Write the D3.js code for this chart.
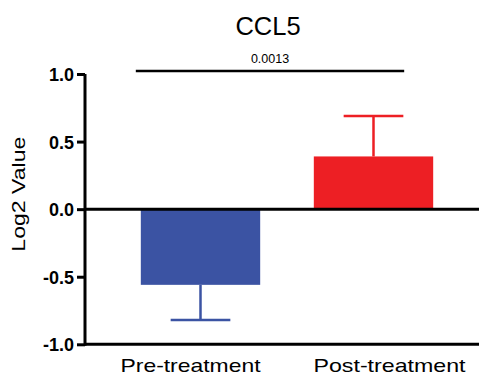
<!DOCTYPE html>
<html><head><meta charset="utf-8">
<script src="https://cdn.jsdelivr.net/npm/d3@7"></script>
<style>body{margin:0;background:#fff}svg{display:block}text{font-family:"Liberation Sans",Arial,sans-serif}</style>
</head><body>
<script>
const categories = ["Pre-treatment", "Post-treatment"];
const means = [-0.56, 0.39];
const errors = [0.26, 0.30];
const colors = ["#3b53a3", "#ed1f24"];
const yTicks = [-1.0, -0.5, 0.0, 0.5, 1.0];
const title = "CCL5";
const yLabel = "Log2 Value";
const pLabel = "0.0013";

const W = 479, H = 379;
const svg = d3.select("body").append("svg").attr("width", W).attr("height", H);

const y = d3.scaleLinear().domain([-1, 1]).range([344.3, 74]);
const x = d3.scaleBand().domain(categories).range([114, 460]).paddingInner(0.31).paddingOuter(0.155);
const axisX = 85, axisEnd = 479;

// bars
svg.selectAll("rect.bar").data(categories).join("rect")
  .attr("x", d => x(d)).attr("width", x.bandwidth())
  .attr("y", (d, i) => Math.min(y(means[i]), y(0)))
  .attr("height", (d, i) => Math.abs(y(means[i]) - y(0)))
  .attr("fill", (d, i) => colors[i]);

// error bars
categories.forEach((c, i) => {
  const cx = x(c) + x.bandwidth() / 2;
  const end = means[i] + Math.sign(means[i]) * errors[i];
  const g = svg.append("g").attr("stroke", colors[i]).attr("stroke-width", 2.5);
  g.append("line").attr("x1", cx).attr("x2", cx).attr("y1", y(means[i])).attr("y2", y(end));
  g.append("line").attr("x1", cx - x.bandwidth() / 4).attr("x2", cx + x.bandwidth() / 4)
    .attr("y1", y(end)).attr("y2", y(end));
});

// zero line
svg.append("line").attr("x1", axisX).attr("x2", axisEnd).attr("y1", y(0)).attr("y2", y(0))
  .attr("stroke", "#000").attr("stroke-width", 3);
// bottom line
svg.append("line").attr("x1", axisX).attr("x2", axisEnd).attr("y1", y(-1)).attr("y2", y(-1))
  .attr("stroke", "#000").attr("stroke-width", 3);

// y axis
const yAxis = d3.axisLeft(y).tickValues(yTicks).tickFormat(d => d.toFixed(1)).tickSize(8).tickPadding(3);
const ga = svg.append("g").attr("transform", `translate(${axisX},0)`).call(yAxis);
ga.select(".domain").attr("stroke", "#000").attr("stroke-width", 3).attr("d", `M0,${y(-1)+1.5}V${y(1)}`);
ga.selectAll(".tick line").attr("stroke", "#000").attr("stroke-width", 3);
ga.selectAll(".tick text").attr("font-family", "Liberation Sans, Arial, sans-serif")
  .attr("font-size", 18).attr("font-weight", "bold").attr("fill", "#000").attr("dy", "0.36em");

// category labels
const labelShift = [-10, 16];
svg.selectAll("text.cat").data(categories).join("text")
  .attr("x", (d, i) => x(d) + x.bandwidth() / 2 + labelShift[i])
  .attr("y", 371.7).attr("text-anchor", "middle").attr("font-size", 19)
  .attr("textLength", (d, i) => i === 0 ? 140 : 152).attr("lengthAdjust", "spacingAndGlyphs")
  .attr("fill", "#000").text(d => d);

// y label
svg.append("text").attr("transform", `translate(25,194.2) rotate(-90)`)
  .attr("text-anchor", "middle").attr("font-size", 18.5)
  .attr("textLength", 115).attr("lengthAdjust", "spacingAndGlyphs")
  .attr("fill", "#000").text(yLabel);

// title
svg.append("text").attr("x", 268).attr("y", 35).attr("text-anchor", "middle")
  .attr("font-size", 25.5).attr("fill", "#000").text(title);

// significance
const sx1 = x(categories[0]) - 5, sx2 = x(categories[1]) + x.bandwidth() - 29;
svg.append("line").attr("x1", sx1).attr("x2", sx2).attr("y1", 71).attr("y2", 71)
  .attr("stroke", "#000").attr("stroke-width", 2.5);
svg.append("text").attr("x", (sx1 + sx2) / 2).attr("y", 62.7).attr("text-anchor", "middle")
  .attr("font-size", 12.5).attr("fill", "#000").text(pLabel);
</script>
</body></html>
